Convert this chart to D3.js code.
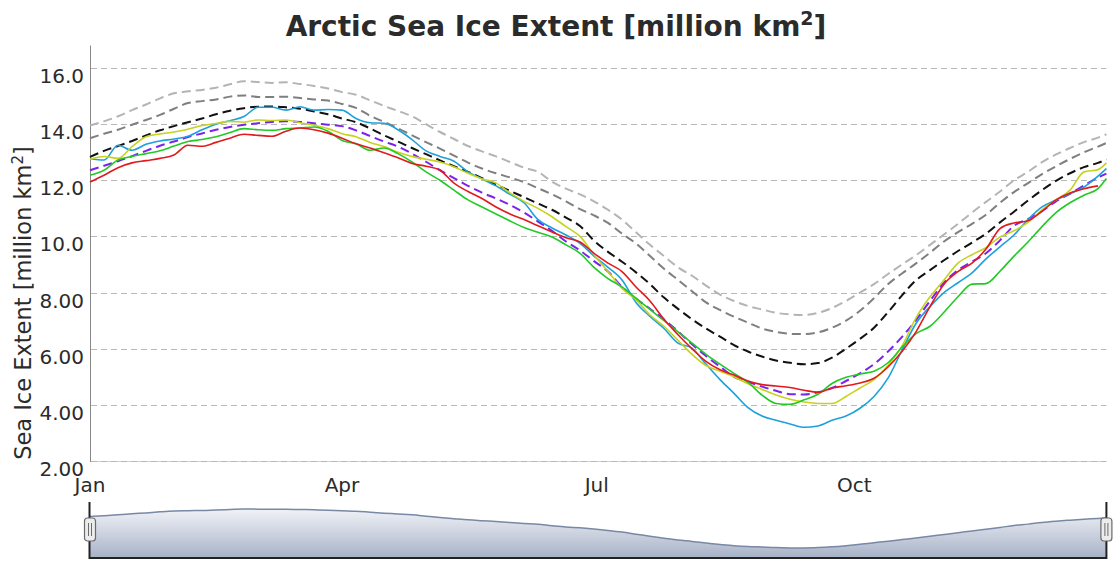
<!DOCTYPE html>
<html>
<head>
<meta charset="utf-8">
<script src="https://cdn.jsdelivr.net/npm/d3@7"></script>
<style>
html,body{margin:0;padding:0;background:#fff;}
svg{display:block;}
text{font-family:"DejaVu Sans","Noto Sans",sans-serif;fill:#2b2b2b;}
</style>
</head>
<body>
<svg id="chart" width="1120" height="569"></svg>
<script>
// ---- data (day of year, values in million km²) ----
const days = [0,5,10,15,20,25,30,35,40,45,50,55,60,65,70,75,80,85,90,95,100,105,110,115,120,125,130,135,140,145,150,155,160,165,170,175,180,185,190,195,200,205,210,215,220,225,230,235,240,245,250,255,260,265,270,275,280,285,290,295,300,305,310,315,320,325,330,335,340,345,350,355,360,363];

const avg1980s = [13.95,14.1,14.28,14.5,14.7,14.92,15.1,15.17,15.22,15.3,15.42,15.53,15.5,15.47,15.49,15.43,15.36,15.27,15.14,15.05,14.85,14.65,14.47,14.28,14.0,13.72,13.47,13.22,13.03,12.85,12.65,12.45,12.3,11.95,11.7,11.5,11.25,10.95,10.6,10.15,9.7,9.3,8.9,8.6,8.25,7.93,7.7,7.52,7.4,7.28,7.22,7.2,7.28,7.45,7.7,8.0,8.3,8.66,9.0,9.33,9.7,10.07,10.45,10.85,11.23,11.6,12.0,12.3,12.65,12.92,13.15,13.36,13.52,13.64];
const avg1990s = [13.5,13.66,13.8,13.98,14.15,14.33,14.55,14.75,14.82,14.88,14.98,15.02,14.97,14.97,14.98,14.93,14.88,14.84,14.72,14.58,14.3,14.08,13.85,13.6,13.36,13.13,12.88,12.63,12.42,12.25,12.1,11.93,11.72,11.5,11.25,10.97,10.75,10.48,10.1,9.75,9.3,8.85,8.45,8.05,7.65,7.38,7.14,6.93,6.72,6.6,6.53,6.52,6.58,6.75,7.0,7.35,7.8,8.3,8.68,9.04,9.42,9.82,10.15,10.45,10.77,11.2,11.58,11.9,12.22,12.5,12.76,13.0,13.2,13.33];
const avg2000s = [12.83,13.05,13.22,13.4,13.6,13.78,13.93,14.07,14.2,14.35,14.48,14.57,14.62,14.63,14.6,14.55,14.45,14.35,14.2,14.07,13.85,13.6,13.38,13.15,12.93,12.71,12.5,12.3,12.08,11.85,11.62,11.4,11.17,10.95,10.67,10.37,9.85,9.45,9.1,8.72,8.3,7.82,7.42,7.05,6.72,6.43,6.13,5.9,5.72,5.58,5.5,5.45,5.49,5.68,6.0,6.35,6.75,7.3,7.9,8.44,8.8,9.15,9.48,9.78,10.1,10.5,10.88,11.28,11.65,11.98,12.25,12.47,12.62,12.74];
const avg2010s = [12.36,12.52,12.68,12.86,13.05,13.23,13.38,13.54,13.67,13.8,13.9,13.98,14.03,14.08,14.1,14.08,14.03,13.98,13.93,13.78,13.58,13.38,13.2,12.95,12.66,12.36,12.08,11.8,11.56,11.35,11.12,10.85,10.53,10.2,9.82,9.5,9.12,8.75,8.2,7.78,7.42,7.04,6.62,6.16,5.74,5.36,5.0,4.82,4.65,4.5,4.38,4.37,4.45,4.6,4.85,5.12,5.45,5.9,6.42,7.02,7.7,8.35,8.8,9.1,9.4,9.86,10.38,10.62,10.9,11.25,11.52,11.82,12.1,12.24];
const y2012 = [12.77,12.72,13.25,13.07,13.28,13.4,13.47,13.57,13.8,14.0,14.12,14.27,14.6,14.6,14.5,14.62,14.5,14.52,14.5,14.2,14.05,14.03,13.8,13.45,13.05,12.85,12.68,12.3,12.05,11.8,11.5,11.2,10.6,10.3,10.05,9.75,9.3,8.9,8.45,7.65,7.15,6.72,6.2,6.02,5.45,4.9,4.41,3.9,3.6,3.45,3.32,3.2,3.25,3.45,3.6,3.88,4.3,4.95,5.95,6.9,7.5,8.0,8.35,8.7,9.2,9.63,10.05,10.6,11.05,11.3,11.52,11.76,12.15,12.42];
const y2019 = [12.75,12.85,12.78,13.2,13.55,13.65,13.72,13.82,13.95,14.02,14.1,14.07,14.15,14.13,14.15,14.05,13.96,13.84,13.66,13.55,13.35,13.2,13.0,12.85,12.75,12.65,12.48,12.25,12.05,11.9,11.55,11.25,11.0,10.7,10.35,10.0,9.35,8.75,8.15,7.75,7.2,6.8,6.3,5.8,5.4,5.2,5.0,4.75,4.55,4.35,4.2,4.1,4.05,4.05,4.3,4.6,4.9,5.4,6.1,7.1,7.85,8.45,9.05,9.35,9.6,9.98,10.2,10.5,10.95,11.3,11.65,12.3,12.38,12.62];
const y2016 = [12.18,12.36,12.72,12.85,12.95,13.05,13.22,13.38,13.45,13.55,13.7,13.84,13.8,13.78,13.84,13.86,13.9,13.75,13.42,13.3,13.07,13.15,12.95,12.65,12.3,12.0,11.65,11.3,11.05,10.8,10.55,10.32,10.15,9.98,9.7,9.4,8.9,8.5,8.2,7.8,7.4,7.0,6.6,6.2,5.8,5.45,5.12,4.8,4.35,4.05,4.02,4.18,4.38,4.76,4.98,5.1,5.2,5.5,6.05,6.54,6.8,7.3,7.85,8.3,8.32,8.76,9.3,9.8,10.35,10.85,11.2,11.47,11.7,12.06];
const y2020 = [11.94,12.18,12.45,12.62,12.7,12.78,12.9,13.25,13.21,13.35,13.5,13.64,13.6,13.57,13.75,13.86,13.8,13.68,13.5,13.3,13.15,12.98,12.8,12.6,12.5,12.36,11.9,11.6,11.35,11.05,10.8,10.6,10.38,10.16,9.95,9.8,9.4,9.05,8.75,8.2,7.7,7.05,6.5,6.0,5.55,5.25,5.06,4.85,4.72,4.67,4.62,4.52,4.45,4.6,4.68,4.78,4.95,5.35,5.9,6.6,7.5,8.3,8.75,9.05,9.55,10.28,10.48,10.56,10.9,11.3,11.55,11.7,11.8,null];

const monthTicks = [0, 90, 181, 273];
const monthLabels = ["Jan", "Apr", "Jul", "Oct"];
const yTicks = [2, 4, 6, 8, 10, 12, 14, 16];
const yTickLabels = ["2.00", "4.00", "6.00", "8.00", "10.0", "12.0", "14.0", "16.0"];

// ---- drawing ----
const svg = d3.select("#chart");
const x = d3.scaleLinear().domain([0, 363]).range([90, 1106.4]);
const y = d3.scaleLinear().domain([2, 16]).range([461, 68]);
const yTop = y(16.8);

// title
const title = svg.append("text").attr("x", 556).attr("y", 36)
  .attr("text-anchor", "middle").style("font-size", "28px").style("font-weight", "bold");
title.append("tspan").text("Arctic Sea Ice Extent [million km");
title.append("tspan").text("2").attr("dy", -11).style("font-size", "19px");
title.append("tspan").text("]").attr("dy", 11);

// y axis title
const yt = svg.append("text").attr("transform", "translate(31,303) rotate(-90)")
  .attr("text-anchor", "middle").style("font-size", "22.5px");
yt.append("tspan").text("Sea Ice Extent [million km");
yt.append("tspan").text("2").attr("dy", -8).style("font-size", "15px");
yt.append("tspan").text("]").attr("dy", 8);

// x-axis base line
svg.append("line").attr("x1", 90).attr("x2", 1106.4).attr("y1", y(2) + 0.5).attr("y2", y(2) + 0.5)
  .attr("stroke", "#d0d0d0").attr("stroke-width", 1);

// grid
svg.append("g").selectAll("line").data(yTicks).join("line")
  .attr("x1", 91).attr("x2", 1106.4)
  .attr("y1", d => Math.round(y(d)) + 0.5).attr("y2", d => Math.round(y(d)) + 0.5)
  .attr("stroke", "#b8b8b8").attr("stroke-width", 1).attr("stroke-dasharray", "6,4");

// y axis line
svg.append("line").attr("x1", 90.5).attr("x2", 90.5).attr("y1", yTop).attr("y2", y(2) + 1)
  .attr("stroke", "#888").attr("stroke-width", 1);

// y tick labels
svg.append("g").selectAll("text").data(yTicks).join("text")
  .attr("x", 84).attr("y", d => y(d) + 15).attr("text-anchor", "end")
  .style("font-size", "20px").text((d, i) => yTickLabels[i]);

// x tick labels
svg.append("g").selectAll("text").data(monthTicks).join("text")
  .attr("x", d => x(d)).attr("y", 492).attr("text-anchor", "middle")
  .style("font-size", "20px").text((d, i) => monthLabels[i]);

// series
const series = [
  { name: "1980s Average", values: avg1980s, color: "#b4b4b4", dash: "9,5", width: 2 },
  { name: "1990s Average", values: avg1990s, color: "#7f7f7f", dash: "9,5", width: 2 },
  { name: "2000s Average", values: avg2000s, color: "#111111", dash: "9,5", width: 2 },
  { name: "2010s Average", values: avg2010s, color: "#7b22ee", dash: "9,5", width: 2 },
  { name: "2012", values: y2012, color: "#1ca1db", dash: null, width: 1.6 },
  { name: "2019", values: y2019, color: "#c6d21e", dash: null, width: 1.6 },
  { name: "2016", values: y2016, color: "#22c926", dash: null, width: 1.6 },
  { name: "2020", values: y2020, color: "#e01a1f", dash: null, width: 1.6 }
];

const line = d3.line()
  .defined(d => d[1] !== null)
  .x(d => x(d[0])).y(d => y(d[1]))
  .curve(d3.curveMonotoneX);

svg.append("g").selectAll("path").data(series).join("path")
  .attr("d", s => line(days.map((d, i) => [d, s.values[i]])))
  .attr("fill", "none")
  .attr("stroke", s => s.color)
  .attr("stroke-width", s => s.width)
  .attr("stroke-dasharray", s => s.dash)
  .attr("stroke-linejoin", "round");

// navigator
const defs = svg.append("defs");
const grad = defs.append("linearGradient").attr("id", "navGrad")
  .attr("x1", 0).attr("y1", 0).attr("x2", 0).attr("y2", 1);
grad.append("stop").attr("offset", "0%").attr("stop-color", "#f0f2f7");
grad.append("stop").attr("offset", "100%").attr("stop-color", "#a7b2c7");

const yN = d3.scaleLinear().domain([5.06, 17.03]).range([558, 502]);
const navData = days.map((d, i) => [d, avg1980s[i]]);
const area = d3.area().x(d => x(d[0])).y0(558).y1(d => yN(d[1])).curve(d3.curveMonotoneX);
svg.append("path").attr("d", area(navData)).attr("fill", "url(#navGrad)");
svg.append("path").attr("d", d3.line().x(d => x(d[0])).y(d => yN(d[1])).curve(d3.curveMonotoneX)(navData))
  .attr("fill", "none").attr("stroke", "#7888a5").attr("stroke-width", 1.5);

// navigator frame
svg.append("line").attr("x1", 89.5).attr("x2", 89.5).attr("y1", 502).attr("y2", 559)
  .attr("stroke", "#222").attr("stroke-width", 2);
svg.append("line").attr("x1", x(363)).attr("x2", x(363)).attr("y1", 502).attr("y2", 559)
  .attr("stroke", "#222").attr("stroke-width", 2);
svg.append("line").attr("x1", 89.5).attr("x2", x(363)).attr("y1", 558).attr("y2", 558)
  .attr("stroke", "#222").attr("stroke-width", 2);

// handles
const handles = svg.append("g").selectAll("g").data([0, 363]).join("g")
  .attr("transform", d => `translate(${x(d)},0)`);
handles.append("rect").attr("x", -5.5).attr("y", 518).attr("width", 11).attr("height", 23).attr("rx", 3)
  .attr("fill", "#ececec").attr("stroke", "#6b6b6b").attr("stroke-width", 1.2);
handles.append("line").attr("x1", -1.5).attr("x2", -1.5).attr("y1", 523).attr("y2", 536).attr("stroke", "#6b6b6b").attr("stroke-width", 1);
handles.append("line").attr("x1", 1.5).attr("x2", 1.5).attr("y1", 523).attr("y2", 536).attr("stroke", "#6b6b6b").attr("stroke-width", 1);
</script>
</body>
</html>
